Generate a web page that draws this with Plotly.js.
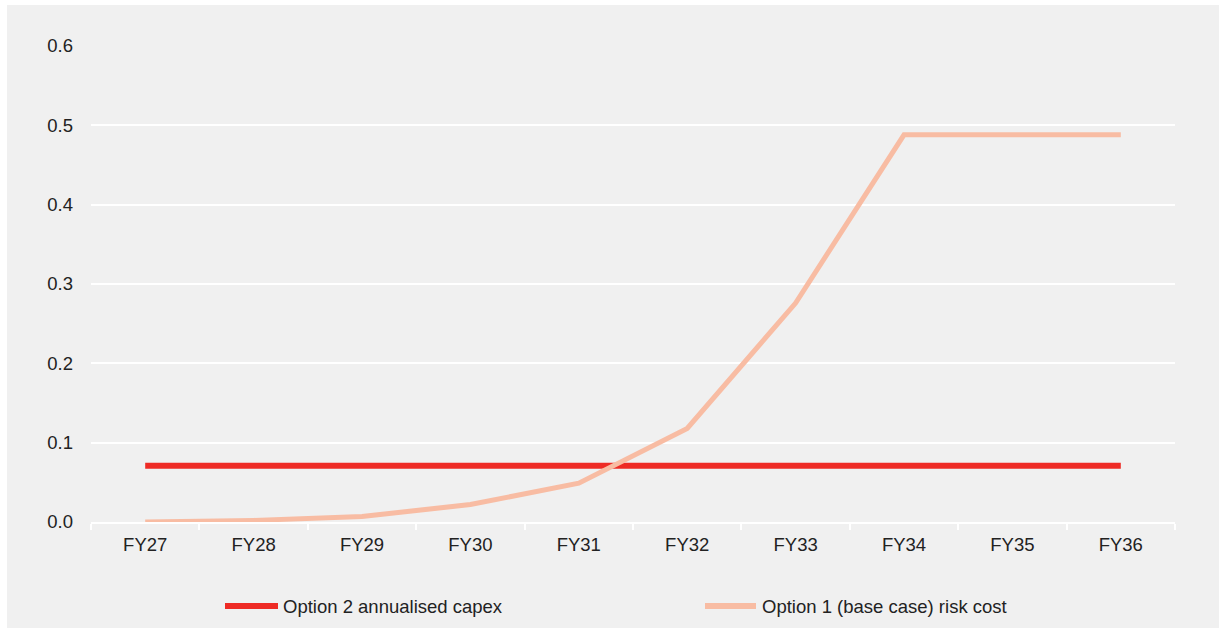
<!DOCTYPE html>
<html>
<head>
<meta charset="utf-8">
<script src="https://cdn.plot.ly/plotly-3.0.1.min.js"></script>
<style>
  html, body { margin: 0; padding: 0; background: #ffffff; overflow: hidden; }
  #chart { width: 1219px; height: 628px; }
</style>
</head>
<body>
<div id="chart"></div>
<script>
// Financial years on the x axis
const years = ['FY27', 'FY28', 'FY29', 'FY30', 'FY31', 'FY32', 'FY33', 'FY34', 'FY35', 'FY36'];

// Option 2: flat annualised capex
const option2Capex = [0.071, 0.071, 0.071, 0.071, 0.071, 0.071, 0.071, 0.071, 0.071, 0.071];

// Option 1 (base case): rising risk cost
const option1Risk = [0.000, 0.002, 0.007, 0.022, 0.049, 0.118, 0.276, 0.488, 0.488, 0.488];

// Y axis ticks
const yTicks = [0.0, 0.1, 0.2, 0.3, 0.4, 0.5, 0.6];
const yTickText = ['0.0', '0.1', '0.2', '0.3', '0.4', '0.5', '0.6'];

// Legend labels
const seriesNames = ['Option 2 annualised capex', 'Option 1 (base case) risk cost'];

const RED = '#ee2b25';
const SALMON = '#f8bca3';
const BG = '#f0f0f0';
const TEXT = '#222222';
const FONT = 'Liberation Sans, Arial, sans-serif';
const FSIZE = 18.5;

const traces = [
  {
    x: years, y: option2Capex, name: seriesNames[0],
    type: 'scatter', mode: 'lines',
    line: { color: RED, width: 6 },
    hoverinfo: 'x+y'
  },
  {
    x: years, y: option1Risk, name: seriesNames[1],
    type: 'scatter', mode: 'lines',
    line: { color: SALMON, width: 5 },
    hoverinfo: 'x+y'
  }
];

// Plot area spans 91..1175 px horizontally and 46..522 px vertically
const plotW = 1084, plotH = 476, left = 91, bottom = 522;
const px = v => (v - left) / plotW;
const py = v => (bottom - v) / plotH;

const legendY = 606;
const shapes = [
  // panel background with a thin white edge at top and left
  { type: 'rect', xref: 'paper', yref: 'paper', layer: 'below',
    x0: px(7), x1: px(1230), y0: py(640), y1: py(5),
    fillcolor: BG, line: { width: 0 } },
  // legend swatches
  { type: 'line', xref: 'paper', yref: 'paper',
    x0: px(225), x1: px(278), y0: py(legendY), y1: py(legendY),
    line: { color: RED, width: 6 } },
  { type: 'line', xref: 'paper', yref: 'paper',
    x0: px(705), x1: px(756), y0: py(legendY), y1: py(legendY),
    line: { color: SALMON, width: 6 } }
];

const annotations = [
  { xref: 'paper', yref: 'paper', x: px(281), y: py(legendY),
    xanchor: 'left', yanchor: 'middle', showarrow: false,
    text: seriesNames[0], font: { family: FONT, size: FSIZE, color: TEXT } },
  { xref: 'paper', yref: 'paper', x: px(760), y: py(legendY),
    xanchor: 'left', yanchor: 'middle', showarrow: false,
    text: seriesNames[1], font: { family: FONT, size: FSIZE, color: TEXT } }
];

const layout = {
  width: 1219, height: 628,
  margin: { l: left, r: 1219 - 1175, t: 46, b: 628 - bottom, pad: 0 },
  paper_bgcolor: '#ffffff',
  plot_bgcolor: 'rgba(0,0,0,0)',
  showlegend: false,
  font: { family: FONT, size: FSIZE, color: TEXT },
  xaxis: {
    type: 'category',
    categoryarray: years,
    range: [-0.5, years.length - 0.5],
    tickson: 'boundaries',
    ticks: 'outside', ticklen: 6, tickwidth: 2, tickcolor: '#ffffff',
    showline: true, linecolor: '#ffffff', linewidth: 2,
    showgrid: false, zeroline: false,
    ticklabelstandoff: 5,
    tickfont: { family: FONT, size: FSIZE, color: TEXT },
    fixedrange: true
  },
  yaxis: {
    range: [0, 0.6],
    tickmode: 'array', tickvals: yTicks, ticktext: yTickText,
    showgrid: true, gridcolor: '#ffffff', gridwidth: 2,
    zeroline: false, showline: false, ticks: '',
    ticklabelstandoff: 17,
    tickfont: { family: FONT, size: FSIZE, color: TEXT },
    fixedrange: true
  },
  shapes: shapes,
  annotations: annotations
};

Plotly.newPlot('chart', traces, layout, { displayModeBar: false, staticPlot: true });
</script>
</body>
</html>
